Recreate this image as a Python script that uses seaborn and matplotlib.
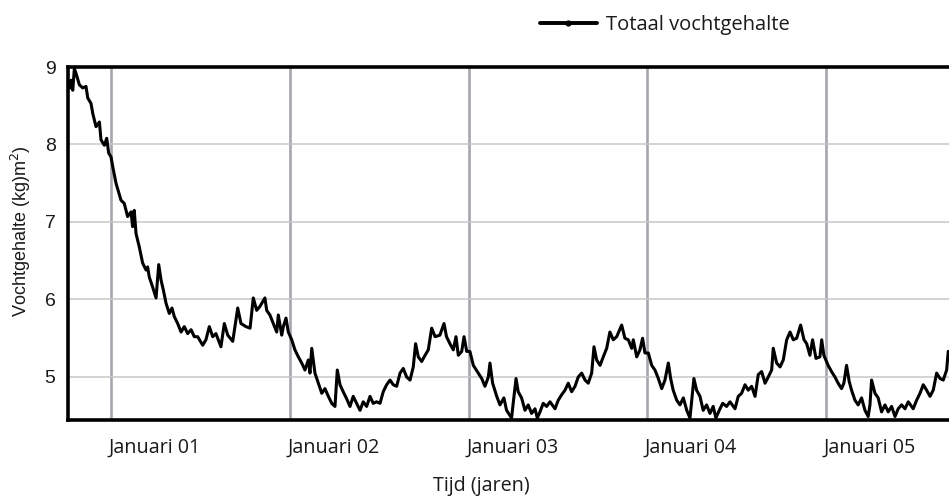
import matplotlib
matplotlib.use("Agg")
import matplotlib.pyplot as plt
from matplotlib.lines import Line2D
import seaborn as sns
import pandas as pd

# Time in years (gridlines = 1 January), moisture content in kg/m2
jaar = [0.771, 0.776, 0.786, 0.795, 0.804, 0.823, 0.842, 0.860, 0.870, 0.888, 0.898, 0.916, 0.935, 0.944,
        0.963, 0.976, 0.987, 1.000, 1.010, 1.028, 1.056, 1.074, 1.093, 1.112, 1.121, 1.130, 1.140, 1.158,
        1.177, 1.196, 1.205, 1.214, 1.233, 1.252, 1.267, 1.280, 1.293, 1.308, 1.326, 1.341, 1.354, 1.373,
        1.392, 1.410, 1.429, 1.448, 1.466, 1.485, 1.513, 1.531, 1.550, 1.569, 1.587, 1.615, 1.634, 1.653,
        1.681, 1.709, 1.727, 1.755,
        1.778, 1.796, 1.815, 1.833, 1.861, 1.871, 1.889, 1.908, 1.927, 1.936, 1.955, 1.964, 1.979, 1.992,
        2.011, 2.029, 2.048, 2.067, 2.085, 2.104, 2.113, 2.123, 2.141, 2.160, 2.179, 2.197, 2.216, 2.235,
        2.253, 2.266, 2.281, 2.299, 2.318, 2.337, 2.355, 2.374, 2.393, 2.411, 2.430, 2.449, 2.467, 2.486,
        2.505, 2.523, 2.542, 2.561, 2.579, 2.598, 2.617, 2.635, 2.654, 2.673, 2.691, 2.704, 2.719, 2.738,
        2.757, 2.775, 2.794, 2.813, 2.840, 2.863, 2.877,
        2.896, 2.915, 2.930, 2.943, 2.962, 2.975, 2.990, 3.008, 3.027, 3.055, 3.074, 3.092, 3.111, 3.120,
        3.135, 3.158, 3.176, 3.198, 3.213, 3.241, 3.250, 3.266, 3.278, 3.297, 3.316, 3.334, 3.353, 3.372,
        3.385, 3.400, 3.418, 3.437, 3.456, 3.484, 3.502, 3.521, 3.540, 3.558, 3.577, 3.596, 3.614, 3.633,
        3.652, 3.670, 3.689, 3.702, 3.717, 3.736, 3.754, 3.773, 3.791, 3.810, 3.829, 3.857, 3.875, 3.894,
        3.913, 3.922, 3.941, 3.959, 3.974, 3.987,
        4.006, 4.025, 4.043, 4.062, 4.081, 4.099, 4.118, 4.131, 4.145, 4.165, 4.183, 4.202, 4.221, 4.239,
        4.249, 4.261, 4.276, 4.295, 4.313, 4.332, 4.351, 4.369, 4.384, 4.403, 4.422, 4.444, 4.463, 4.491,
        4.509, 4.528, 4.547, 4.565, 4.584, 4.603, 4.621, 4.640, 4.659, 4.677, 4.696, 4.705, 4.724, 4.743,
        4.761, 4.780, 4.799, 4.817, 4.836, 4.858, 4.877, 4.892, 4.910, 4.925, 4.944, 4.966, 4.976, 4.988,
        5.012, 5.031, 5.050, 5.068, 5.087, 5.100, 5.115, 5.130, 5.143, 5.162, 5.180, 5.199, 5.218, 5.236,
        5.246, 5.255, 5.274, 5.292, 5.311, 5.330, 5.348, 5.367, 5.386, 5.404, 5.423, 5.442, 5.460, 5.488,
        5.507, 5.526, 5.544, 5.563, 5.582, 5.600, 5.619, 5.638, 5.656, 5.675, 5.684]

vocht = [8.73, 8.83, 8.70, 8.98, 8.92, 8.77, 8.73, 8.75, 8.60, 8.53, 8.40, 8.23, 8.29, 8.06,
         7.99, 8.08, 7.89, 7.84, 7.71, 7.50, 7.28, 7.24, 7.07, 7.13, 6.94, 7.15, 6.85, 6.68,
         6.47, 6.38, 6.42, 6.29, 6.16, 6.02, 6.45, 6.25, 6.12, 5.95, 5.82, 5.89, 5.78, 5.69,
         5.58, 5.65, 5.56, 5.61, 5.52, 5.52, 5.41, 5.48, 5.65, 5.52, 5.56, 5.39, 5.69, 5.54,
         5.46, 5.89, 5.69, 5.65,
         5.63, 6.02, 5.86, 5.91, 6.02, 5.86, 5.80, 5.69, 5.58, 5.80, 5.54, 5.65, 5.76, 5.58,
         5.48, 5.35, 5.26, 5.18, 5.09, 5.22, 5.05, 5.37, 5.05, 4.92, 4.79, 4.85, 4.75, 4.66,
         4.62, 5.09, 4.90, 4.81, 4.72, 4.62, 4.75, 4.66, 4.57, 4.68, 4.62, 4.75, 4.66, 4.68,
         4.66, 4.81, 4.90, 4.96, 4.90, 4.88, 5.05, 5.11, 5.00, 4.96, 5.13, 5.43, 5.26, 5.20,
         5.28, 5.35, 5.63, 5.52, 5.54, 5.69, 5.52,
         5.43, 5.35, 5.52, 5.28, 5.33, 5.52, 5.33, 5.33, 5.15, 5.05, 4.98, 4.88, 5.00, 5.18,
         4.92, 4.75, 4.64, 4.73, 4.57, 4.47, 4.66, 4.98, 4.81, 4.73, 4.57, 4.64, 4.53, 4.59,
         4.47, 4.55, 4.66, 4.62, 4.68, 4.59, 4.70, 4.77, 4.83, 4.92, 4.81, 4.88, 5.00, 5.05,
         4.96, 4.92, 5.05, 5.39, 5.22, 5.15, 5.26, 5.37, 5.58, 5.48, 5.52, 5.67, 5.50, 5.48,
         5.37, 5.48, 5.26, 5.35, 5.50, 5.31,
         5.31, 5.15, 5.09, 4.98, 4.85, 4.96, 5.18, 4.98, 4.83, 4.70, 4.64, 4.73, 4.57, 4.47,
         4.70, 4.98, 4.83, 4.75, 4.57, 4.64, 4.53, 4.62, 4.47, 4.57, 4.66, 4.62, 4.68, 4.59,
         4.75, 4.79, 4.90, 4.83, 4.88, 4.75, 5.03, 5.07, 4.92, 5.00, 5.09, 5.37, 5.18, 5.13,
         5.22, 5.48, 5.58, 5.48, 5.50, 5.67, 5.48, 5.43, 5.28, 5.48, 5.24, 5.26, 5.48, 5.28,
         5.15, 5.07, 5.00, 4.92, 4.85, 4.92, 5.15, 4.94, 4.83, 4.70, 4.64, 4.73, 4.57, 4.49,
         4.64, 4.96, 4.79, 4.73, 4.55, 4.64, 4.55, 4.62, 4.49, 4.59, 4.64, 4.59, 4.68, 4.59,
         4.70, 4.79, 4.90, 4.83, 4.75, 4.83, 5.05, 4.98, 4.96, 5.09, 5.33]

jaren = [1, 2, 3, 4, 5]
jaar_labels = ["Januari 01", "Januari 02", "Januari 03", "Januari 04", "Januari 05"]
y_ticks = [5, 6, 7, 8, 9]
serie_naam = "Totaal vochtgehalte"

df = pd.DataFrame({"jaar": jaar, "vocht": vocht})

sns.set_theme(style="white")
plt.rcParams["font.family"] = ["Open Sans", "DejaVu Sans"]
plt.rcParams["text.color"] = "#1a1a1a"

W, H = 949, 497
fig = plt.figure(figsize=(W / 100, H / 100), dpi=100)
fig.patch.set_facecolor("white")
ax_left, ax_right, ax_top, ax_bottom = 68, 960, 67, 420
ax = fig.add_axes([ax_left / W, 1 - ax_bottom / H, (ax_right - ax_left) / W, (ax_bottom - ax_top) / H])

sns.lineplot(data=df, x="jaar", y="vocht", ax=ax, color="black", linewidth=2.2,
             estimator=None, sort=False, legend=False, zorder=3)

ax.set_xlim(0.7594, 5.7497)
ax.set_ylim(4.445, 9.0)

sans_myriad = ["Open Sans", "DejaVu Sans"]
sans_arial = ["Liberation Sans", "DejaVu Sans"]

# gridlines at 1 January of each year
ax.set_xticks(jaren)
ax.set_xticklabels([""] * len(jaren))
ax.set_xticks([j + 0.245 for j in jaren], minor=True)
ax.set_xticklabels(jaar_labels, minor=True, fontsize=14.2, family=sans_myriad, color="#1a1a1a")
ax.tick_params(axis="x", which="both", length=0, pad=13)
ax.xaxis.grid(True, which="major", color="#a6a6ae", linewidth=1.9)
ax.xaxis.grid(False, which="minor")

ax.set_yticks(y_ticks)
ax.set_yticklabels([str(v) for v in y_ticks], fontsize=14, family=sans_arial, color="#1a1a1a")
ax.tick_params(axis="y", length=0, pad=9)
ax.yaxis.grid(True, color="#c8c8c8", linewidth=1.1)
ax.set_axisbelow(True)

for side in ["left", "top", "bottom"]:
    ax.spines[side].set_visible(True)
    ax.spines[side].set_color("black")
    ax.spines[side].set_linewidth(2.6)
ax.spines["right"].set_visible(False)

ax.set_xlabel("Tijd (jaren)", fontsize=14.2, family=sans_myriad, color="#1a1a1a")
ax.xaxis.label.set_va("center")
ax.xaxis.set_label_coords((481 - ax_left) / (ax_right - ax_left), (ax_bottom - 486) / (ax_bottom - ax_top))

ax.set_ylabel("Vochtgehalte (kg)m$^2$)", fontsize=13, family=sans_arial, color="#1a1a1a")
ax.yaxis.label.set_va("center")
ax.yaxis.label.set_ha("center")
ax.yaxis.set_label_coords((21 - ax_left) / (ax_right - ax_left), (ax_bottom - 231) / (ax_bottom - ax_top))

handle = Line2D([], [], color="black", linewidth=2.8, marker="o", markersize=3.5)
ax.legend(handles=[handle], labels=[serie_naam], loc="center left",
          bbox_to_anchor=(540 / W, 1 - 25 / H), bbox_transform=fig.transFigure,
          frameon=False, borderpad=0, borderaxespad=0, handlelength=2.83,
          handletextpad=0.45, numpoints=1, prop={"family": sans_myriad, "size": 14.5})

fig.savefig("out.png", dpi=100, facecolor="white")
